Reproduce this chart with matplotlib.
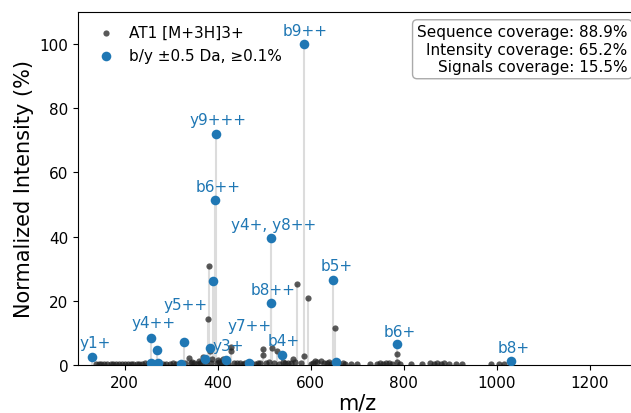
import matplotlib
matplotlib.use("Agg")
import matplotlib.pyplot as plt

# precursor spectrum peaks (m/z, normalized intensity %)
peak_mz = [381, 380, 572, 594, 652, 787, 787, 338, 368, 383, 389, 430, 430, 411,
           497, 497, 518, 527, 563, 587, 622, 401, 360, 345, 540, 610, 640]
peak_int = [30.8, 14.2, 25.2, 20.9, 11.5, 3.4, 1.0, 2.2, 2.5, 4.4, 1.9, 5.6, 4.4, 1.9,
            5.0, 3.1, 5.3, 4.4, 1.9, 2.8, 1.2, 1.5, 1.3, 0.9, 1.0, 1.3, 0.9]

# low-level baseline peaks
base_mz = [138, 145, 150, 156, 163, 170, 175, 182, 188, 195, 201, 207, 213, 219, 226,
           232, 238, 244, 250, 262, 276, 283, 290, 297, 304, 311, 318, 330, 342, 349,
           355, 362, 366, 376, 385, 398, 404, 408, 415, 423, 435, 441, 448, 455, 460,
           473, 480, 487, 492, 505, 510, 522, 533, 545, 551, 557, 566, 580, 600, 606,
           615, 630, 636, 645, 660, 669, 675, 688, 701, 727, 744, 750, 756, 762, 768,
           776, 792, 817, 839, 856, 866, 871, 880, 888, 898, 912, 925, 989, 1006, 1017]
base_int = [0.3, 0.2, 0.4, 0.3, 0.2, 0.3, 0.2, 0.4, 0.3, 0.2, 0.3, 0.2, 0.3, 0.4, 0.2,
            0.3, 0.2, 0.5, 0.3, 0.4, 0.3, 0.2, 0.4, 0.3, 0.5, 0.3, 0.4, 0.6, 0.5, 0.7,
            0.4, 0.6, 0.8, 0.9, 0.7, 0.6, 0.9, 0.5, 0.7, 0.4, 0.6, 0.5, 0.7, 0.4, 0.6,
            0.5, 0.4, 0.6, 0.7, 0.5, 0.8, 0.6, 0.4, 0.7, 0.5, 0.6, 0.9, 0.5, 0.4, 0.7,
            0.8, 0.5, 0.6, 0.4, 0.6, 0.5, 0.3, 0.4, 0.3, 0.3, 0.4, 0.5, 0.4, 0.6, 0.5,
            0.4, 0.3, 0.3, 0.3, 0.5, 0.4, 0.5, 0.4, 0.5, 0.4, 0.3, 0.3, 0.3, 0.3, 0.4]

# matched b/y fragments
frag_mz = [131, 258, 327, 419, 467, 394, 396, 514, 516, 538, 587, 649, 787, 1032,
           269, 374, 383, 391, 654, 258, 271, 322]
frag_int = [2.5, 8.4, 7.2, 1.6, 0.6, 51.5, 72.0, 39.6, 19.3, 3.1, 100.0, 26.5, 6.5, 1.2,
            4.7, 1.9, 5.3, 26.2, 1.0, 0.5, 0.5, 0.3]
frag_labels = ["y1+", "y4++", "y5++", "y3+", "y7++", "b6++", "y9+++", "y4+, y8++",
               "b8++", "b4+", "b9++", "b5+", "b6+", "b8+"]
# label offsets from the point, in pixels
label_dx = [3, 2, 2, 2, 1, 3, 2, 3, 2, 2, 1, 3, 2, 2]
label_dy = [10, 11, 33, 10, 33, 9, 10, 9, 9, 10, 9, 10, 8, 9]

coverage_text = "Sequence coverage: 88.9%\nIntensity coverage: 65.2%\nSignals coverage: 15.5%"

plt.rcParams["font.family"] = "DejaVu Sans"
plt.rcParams["font.size"] = 11

fig = plt.figure(figsize=(6.31, 4.14), dpi=100)
# axes run past the right edge, as in the reference
ax = fig.add_axes([78 / 631, 48 / 414, 558 / 631, 353 / 414])

all_mz = peak_mz + base_mz
all_int = peak_int + base_int
ax.vlines(all_mz + frag_mz, 0, all_int + frag_int, color="#dcdcdc", lw=1.5, zorder=1)
ax.scatter(all_mz, all_int, s=20, color="#222222", alpha=0.75, lw=0, zorder=2,
           label="AT1 [M+3H]3+")
ax.scatter(frag_mz, frag_int, s=48, color="#1f77b4", lw=0, zorder=3,
           label="b/y \u00b10.5 Da, \u22650.1%")

for lab, x, y, dx, dy in zip(frag_labels, frag_mz, frag_int, label_dx, label_dy):
    ax.annotate(lab, (x, y), xytext=(dx, dy), textcoords="offset pixels",
                ha="center", va="baseline", color="#1f77b4", fontsize=11)

ax.set_xlim(100, 1300)
ax.set_ylim(0, 110)
ax.set_xticks([200, 400, 600, 800, 1000, 1200])
ax.set_yticks([0, 20, 40, 60, 80, 100])
ax.set_xlabel("m/z", fontsize=15, labelpad=2)
ax.set_ylabel("Normalized Intensity (%)", fontsize=15)

ax.legend(loc="upper left", frameon=False, fontsize=11, handletextpad=0.5,
          borderaxespad=0.45, labelspacing=0.55)
ax.text(0.985, 0.965, coverage_text, transform=ax.transAxes, ha="right", va="top",
        multialignment="right", fontsize=11,
        bbox=dict(boxstyle="round,pad=0.3", fc="white", ec="#aaaaaa"))

fig.savefig("out.png", dpi=100)
